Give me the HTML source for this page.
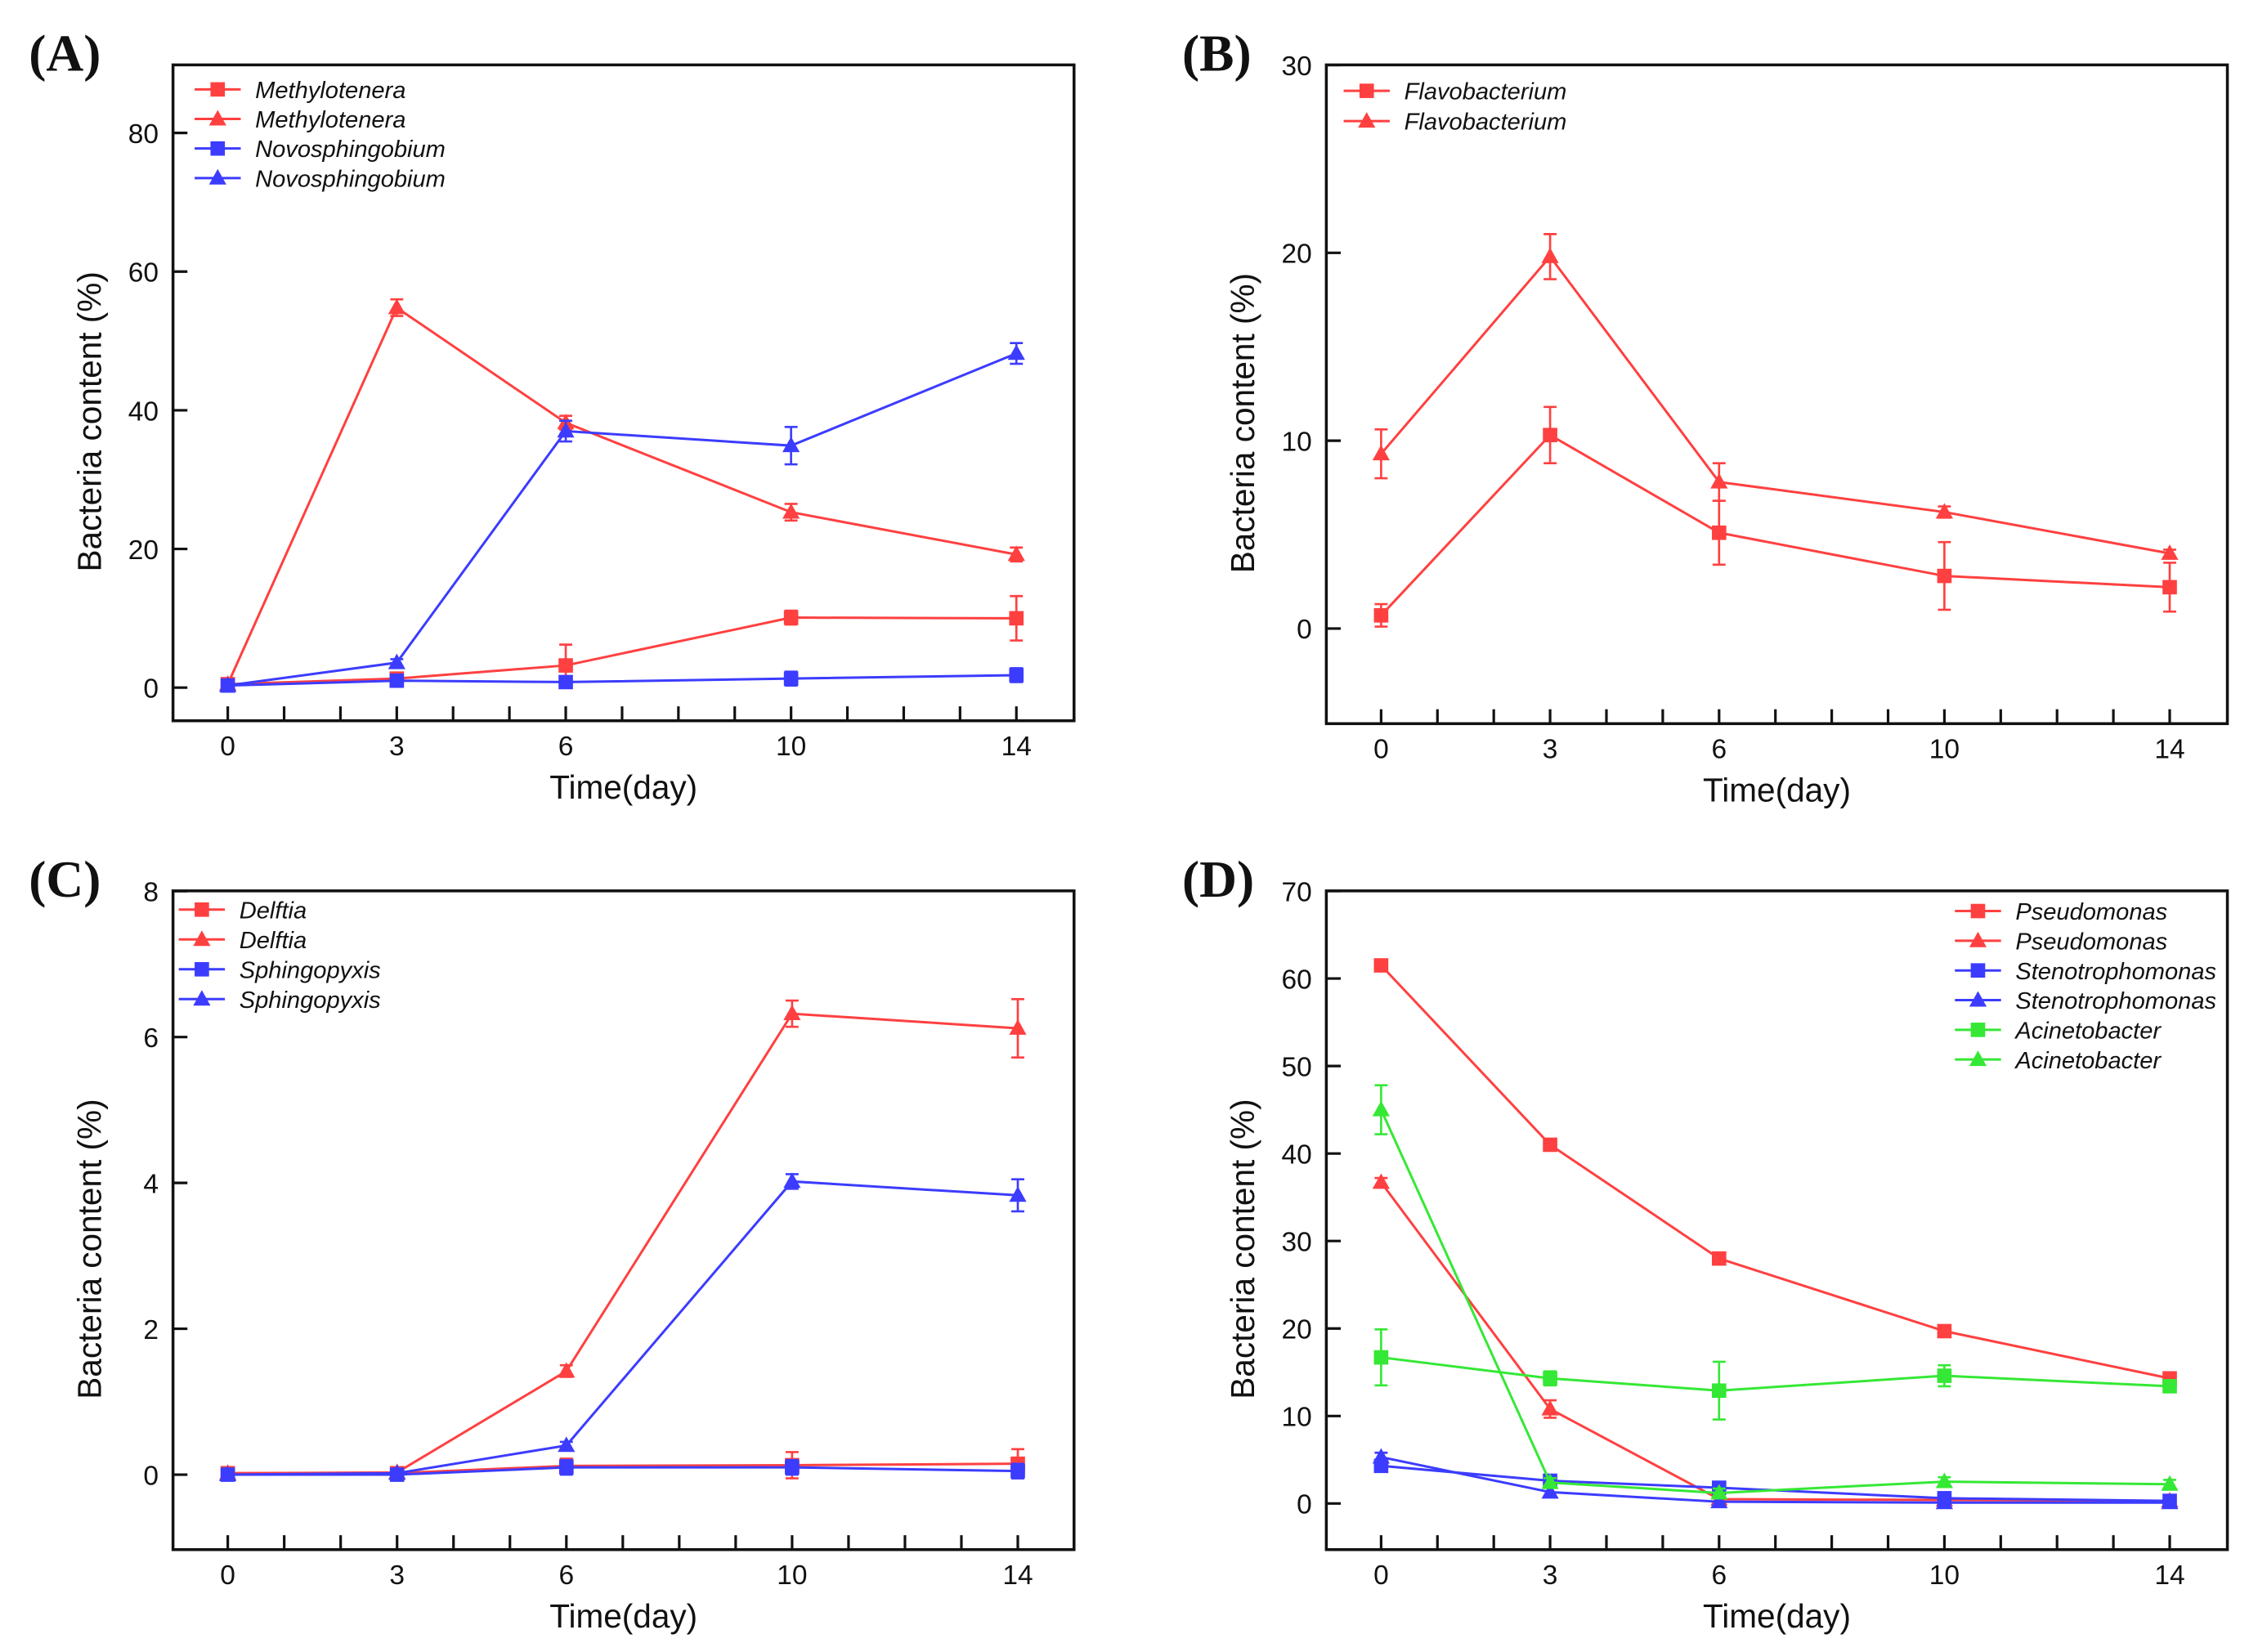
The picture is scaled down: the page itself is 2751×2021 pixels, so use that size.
<!DOCTYPE html>
<html><head><meta charset="utf-8"><style>
html,body{margin:0;padding:0;background:#fff;}
svg{display:block;}
text{font-family:"Liberation Sans",sans-serif;fill:#111;}
</style></head><body>
<svg id="fig" width="2751" height="2021" viewBox="0 0 1560 1146" xmlns="http://www.w3.org/2000/svg"></svg>
<script>
// ---- Data (days) ----
const days = [0, 3, 6, 10, 14];
// Panel A
const aMethSq = [0.5, 1.3, 3.2, 10.1, 10.0];
const aMethSqErr = [0.3, 0.5, 3.0, 1.0, 3.2];
const aMethTri = [0.5, 54.8, 38.2, 25.3, 19.2];
const aMethTriErr = [0.3, 1.2, 1.0, 1.2, 1.0];
const aNovoSq = [0.3, 1.0, 0.8, 1.3, 1.8];
const aNovoSqErr = [0.3, 0.5, 0.8, 1.0, 1.0];
const aNovoTri = [0.3, 3.6, 37.0, 34.9, 48.2];
const aNovoTriErr = [0.3, 0.5, 1.5, 2.7, 1.5];
const aYTicks = [0, 20, 40, 60, 80];
// Panel B
const bFlavoSq = [0.7, 10.3, 5.1, 2.8, 2.2];
const bFlavoSqErr = [0.6, 1.5, 1.7, 1.8, 1.3];
const bFlavoTri = [9.3, 19.8, 7.8, 6.2, 4.0];
const bFlavoTriErr = [1.3, 1.2, 1.0, 0.3, 0.2];
const bYTicks = [0, 10, 20, 30];
// Panel C
const cDelfSq = [0.02, 0.02, 0.12, 0.13, 0.15];
const cDelfSqErr = [0.05, 0.05, 0.1, 0.18, 0.2];
const cDelfTri = [0.02, 0.03, 1.42, 6.32, 6.12];
const cDelfTriErr = [0.03, 0.03, 0.08, 0.18, 0.4];
const cSphSq = [0.0, 0.0, 0.1, 0.1, 0.05];
const cSphSqErr = [0.05, 0.05, 0.1, 0.1, 0.1];
const cSphTri = [0.0, 0.02, 0.4, 4.02, 3.83];
const cSphTriErr = [0.05, 0.05, 0.05, 0.1, 0.22];
const cYTicks = [0, 2, 4, 6, 8];
// Panel D
const dPseSq = [61.5, 41.0, 28.0, 19.7, 14.3];
const dPseSqErr = [0.5, 0.5, 0.5, 0.5, 0.5];
const dPseTri = [36.7, 10.8, 0.5, 0.4, 0.3];
const dPseTriErr = [0.5, 1.0, 0.5, 0.3, 0.3];
const dSteSq = [4.3, 2.6, 1.8, 0.6, 0.3];
const dSteSqErr = [0.5, 0.5, 0.5, 0.5, 0.5];
const dSteTri = [5.3, 1.3, 0.2, 0.1, 0.1];
const dSteTriErr = [0.5, 0.5, 0.5, 0.5, 0.5];
const dAciSq = [16.7, 14.3, 12.9, 14.6, 13.4];
const dAciSqErr = [3.2, 0.8, 3.3, 1.2, 0.6];
const dAciTri = [45.0, 2.4, 1.2, 2.5, 2.2];
const dAciTriErr = [2.8, 0.5, 0.5, 0.5, 0.5];
const dYTicks = [0, 10, 20, 30, 40, 50, 60, 70];

const RED = '#ff4040', BLUE = '#3c3cff', GREEN = '#35e835';
const NS = 'http://www.w3.org/2000/svg';
const svg = document.getElementById('fig');
function mk(tag, attrs, parent) {
  const e = document.createElementNS(NS, tag);
  for (const k in attrs) e.setAttribute(k, attrs[k]);
  (parent || svg).appendChild(e);
  return e;
}
function marker(g, shape, x, y, col, r) {
  let m;
  if (shape === 'sq') m = mk('rect', {x: x - r, y: y - r, width: 2 * r, height: 2 * r, fill: col}, g);
  else m = mk('polygon', {points: `${x},${y - r * 1.25} ${x - r * 1.2},${y + r * 0.9} ${x + r * 1.2},${y + r * 0.9}`, fill: col}, g);
  return m;
}

function panel(p) {
  const g = mk('g', {});
  
  
  const xs = d => p.x0 + (d / 14) * (p.x14 - p.x0);
  const ys = v => p.yZero - (v - 0) * p.ppu;
  const lt = mk('text', {x: p.bl - 100, y: p.bt + 4, 'font-weight': 'bold', 'font-size': 36, style: 'font-family:"Liberation Serif",serif'}, g);
  lt.textContent = '(' + p.id + ')';
  
  
  const box = mk('rect', {x: p.bl, y: p.bt, width: p.br - p.bl, height: p.bb - p.bt, fill: 'none', stroke: '#111', 'stroke-width': 2}, g);
  
  
  for (let d = 0; d <= 14; d++) {
    const t = mk('line', {x1: xs(d), x2: xs(d), y1: p.bb, y2: p.bb - 10, stroke: '#111', 'stroke-width': 1.8}, g);
    
    
  }
  days.forEach(d => {
    const t = mk('text', {x: xs(d), y: p.bb + 24, 'text-anchor': 'middle', 'font-size': 19}, g);
    t.textContent = d;
    
    
  });
  p.yTicks.forEach(v => {
    const y = ys(v);
    const t = mk('line', {x1: p.bl, x2: p.bl + 10, y1: y, y2: y, stroke: '#111', 'stroke-width': 1.8}, g);
    
    
    const l = mk('text', {x: p.bl - 10, y: y + 7, 'text-anchor': 'end', 'font-size': 19}, g);
    l.textContent = v;
    
    
  });
  const xt = mk('text', {x: (p.bl + p.br) / 2, y: p.bb + 54, 'text-anchor': 'middle', 'font-size': 23}, g);
  xt.textContent = 'Time(day)';
  
  
  const yc = (p.bt + p.bb) / 2 + 20;
  const yx = p.bl - 50;
  const yt = mk('text', {x: yx, y: yc, 'text-anchor': 'middle', 'font-size': 23, transform: `rotate(-90 ${yx} ${yc})`}, g);
  yt.textContent = 'Bacteria content (%)';
  
  
  p.series.forEach((s, si) => {
    const sg = mk('g', {}, g);
    
    
    const pts = s.vals.map((v, i) => `${xs(days[i])},${ys(v)}`).join(' ');
    mk('polyline', {points: pts, fill: 'none', stroke: s.col, 'stroke-width': 1.7}, sg);
    s.vals.forEach((v, i) => {
      const x = xs(days[i]), e = s.err[i];
      const eb = mk('path', {d: `M${x},${ys(v + e)}V${ys(v - e)}M${x - 4.5},${ys(v + e)}H${x + 4.5}M${x - 4.5},${ys(v - e)}H${x + 4.5}`, stroke: s.col, 'stroke-width': 1.5, fill: 'none'}, sg);
      
      
      const m = marker(sg, s.shape, x, ys(v), s.col, 5);
      
      
    });
    const ly = p.legY + si * p.legDy;
    const lg = mk('g', {}, g);
    
    
    mk('line', {x1: p.legX, x2: p.legX + 32, y1: ly, y2: ly, stroke: s.col, 'stroke-width': 1.7}, lg);
    marker(lg, s.shape, p.legX + 16, ly, s.col, 5);
    const tx = mk('text', {x: p.legX + 42, y: ly + 6, 'font-size': 16.5, 'font-style': 'italic'}, lg);
    tx.textContent = s.name;
  });
}

panel({id: 'A', bl: 120, br: 745, bt: 45, bb: 500, x0: 158, x14: 705, yZero: 477, ppu: 4.81, yTicks: aYTicks,
  legX: 135, legY: 62, legDy: 20.5, series: [
  {name: 'Methylotenera', shape: 'sq', col: RED, vals: aMethSq, err: aMethSqErr},
  {name: 'Methylotenera', shape: 'tri', col: RED, vals: aMethTri, err: aMethTriErr},
  {name: 'Novosphingobium', shape: 'sq', col: BLUE, vals: aNovoSq, err: aNovoSqErr},
  {name: 'Novosphingobium', shape: 'tri', col: BLUE, vals: aNovoTri, err: aNovoTriErr}]});
panel({id: 'B', bl: 920, br: 1545, bt: 45, bb: 502, x0: 958, x14: 1505, yZero: 436, ppu: 13.03, yTicks: bYTicks,
  legX: 932, legY: 63, legDy: 21, series: [
  {name: 'Flavobacterium', shape: 'sq', col: RED, vals: bFlavoSq, err: bFlavoSqErr},
  {name: 'Flavobacterium', shape: 'tri', col: RED, vals: bFlavoTri, err: bFlavoTriErr}]});
panel({id: 'C', bl: 120, br: 745, bt: 618, bb: 1075, x0: 158, x14: 706, yZero: 1023, ppu: 50.6, yTicks: cYTicks,
  legX: 124, legY: 631, legDy: 20.7, series: [
  {name: 'Delftia', shape: 'sq', col: RED, vals: cDelfSq, err: cDelfSqErr},
  {name: 'Delftia', shape: 'tri', col: RED, vals: cDelfTri, err: cDelfTriErr},
  {name: 'Sphingopyxis', shape: 'sq', col: BLUE, vals: cSphSq, err: cSphSqErr},
  {name: 'Sphingopyxis', shape: 'tri', col: BLUE, vals: cSphTri, err: cSphTriErr}]});
panel({id: 'D', bl: 920, br: 1545, bt: 618, bb: 1075, x0: 958, x14: 1505, yZero: 1043, ppu: 6.07, yTicks: dYTicks,
  legX: 1356, legY: 632, legDy: 20.6, series: [
  {name: 'Pseudomonas', shape: 'sq', col: RED, vals: dPseSq, err: dPseSqErr},
  {name: 'Pseudomonas', shape: 'tri', col: RED, vals: dPseTri, err: dPseTriErr},
  {name: 'Stenotrophomonas', shape: 'sq', col: BLUE, vals: dSteSq, err: dSteSqErr},
  {name: 'Stenotrophomonas', shape: 'tri', col: BLUE, vals: dSteTri, err: dSteTriErr},
  {name: 'Acinetobacter', shape: 'sq', col: GREEN, vals: dAciSq, err: dAciSqErr},
  {name: 'Acinetobacter', shape: 'tri', col: GREEN, vals: dAciTri, err: dAciTriErr}]});
</script>
</body></html>
